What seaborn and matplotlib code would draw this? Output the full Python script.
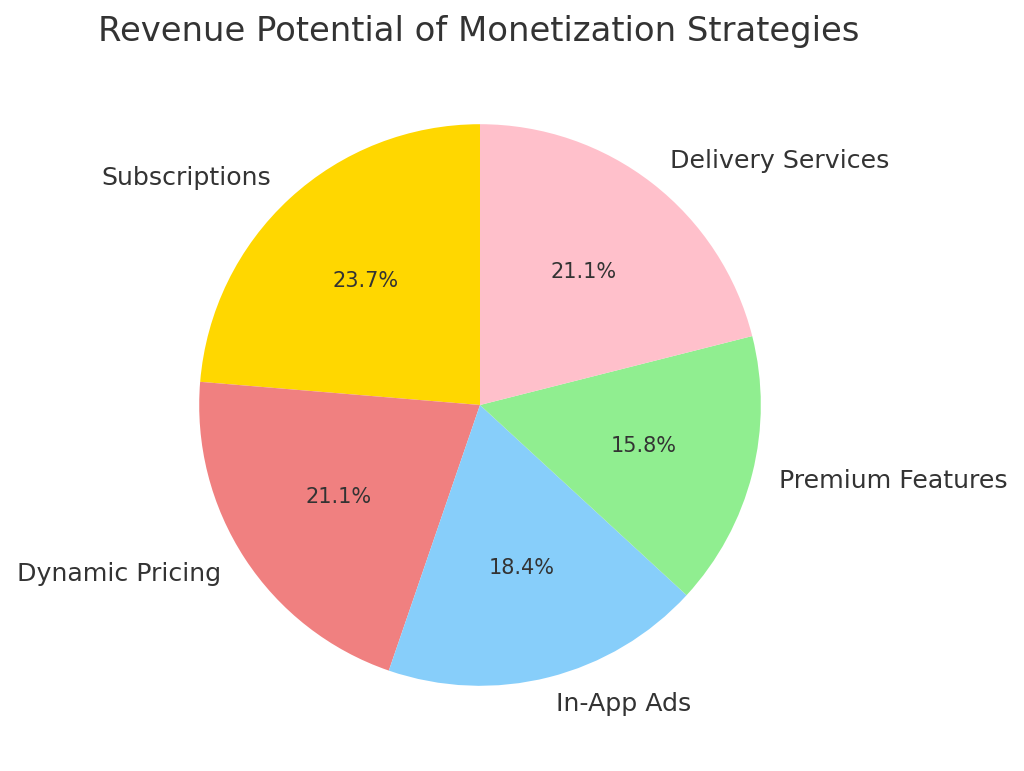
import matplotlib
matplotlib.use("Agg")
import matplotlib.pyplot as plt
import seaborn as sns

sns.set_theme(style="white")
plt.rcParams['font.family'] = ['DejaVu Sans']

categories = ["Subscriptions", "Dynamic Pricing", "In-App Ads", "Premium Features", "Delivery Services"]
values = [9, 8, 7, 6, 8]
colors = ["gold", "lightcoral", "lightskyblue", "lightgreen", "pink"]

text_color = "#333333"

fig = plt.figure(figsize=(10.24, 7.71), dpi=100)
ax = fig.add_axes([129/1024, 15/771, 702/1024, 702/771])
wedges, texts, autotexts = ax.pie(values, labels=categories, colors=colors,
                                  autopct="%1.1f%%", startangle=90,
                                  wedgeprops={"linewidth": 0, "edgecolor": "none"},
                                  textprops={"fontsize": 18.2, "color": text_color})
for t in autotexts:
    t.set_fontsize(15)
    t.set_color(text_color)
ax.set_aspect("equal")
fig.text(479/1024, 1 - 31/771, "Revenue Potential of Monetization Strategies",
         ha="center", va="center", fontsize=24.4, color=text_color)
fig.savefig("out.png", dpi=100)
